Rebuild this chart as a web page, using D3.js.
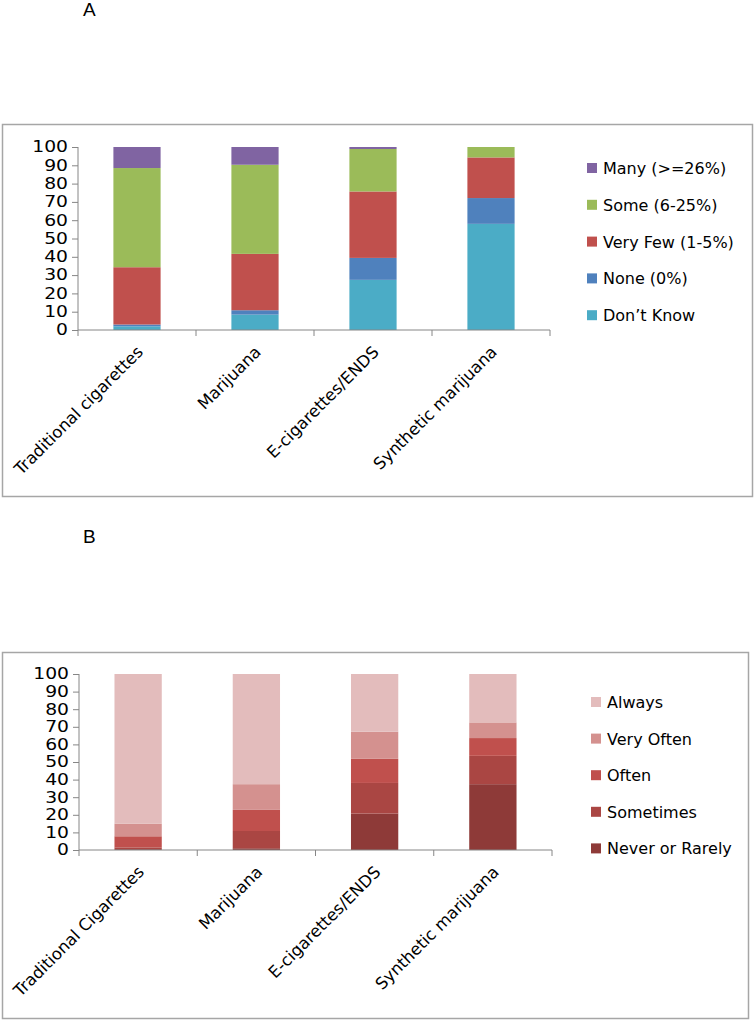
<!DOCTYPE html>
<html lang="en">
<head>
<meta charset="UTF-8">
<title>Stacked bars A and B</title>
<script src="https://d3js.org/d3.v7.min.js"></script>
<style>
    body { margin: 0; background: #fff; font-family: 'DejaVu Sans', 'Liberation Sans', Arial, sans-serif; }
    .tick text { font-size: 15px; fill: #000; font-family: 'DejaVu Sans', sans-serif; }
    .legend text { font-size: 16px; fill: #000; }
    .xlab { font-size: 16.5px; fill: #000; }
    .panel-title { font-size: 19px; fill: #000; font-family: 'Liberation Sans', Arial, sans-serif; }
</style>
</head>
<body>
<svg id="chart" width="755" height="1020"></svg>
<script>
    // panel A: perceived share of peers using each product
    var categoriesA = ["Traditional cigarettes", "Marijuana", "E-cigarettes/ENDS", "Synthetic marijuana"];
    var seriesA = ["Don\u2019t Know", "None (0%)", "Very Few (1-5%)", "Some (6-25%)", "Many (>=26%)"];
    var dontKnowA = [2, 8.4, 27.4, 58];
    var noneA = [1, 2.4, 12, 14.1];
    var veryFewA = [31.3, 30.8, 36.3, 22.2];
    var someA = [54.2, 48.7, 23.2, 5.7];
    var manyA = [11.5, 9.7, 1.1, 0];
    var colorsA = ["#4BACC6", "#4F81BD", "#C0504D", "#9BBB59", "#8064A2"];

    // panel B: how often the product is harmful
    var categoriesB = ["Traditional Cigarettes", "Marijuana", "E-cigarettes/ENDS", "Synthetic marijuana"];
    var seriesB = ["Never or Rarely", "Sometimes", "Often", "Very Often", "Always"];
    var neverB = [0.5, 1, 20.7, 37.4];
    var sometimesB = [1, 9.8, 17.4, 16.1];
    var oftenB = [6.3, 12, 13.7, 10.1];
    var veryOftenB = [7.2, 14.6, 15.4, 8.9];
    var alwaysB = [85, 62.6, 32.8, 27.5];
    var colorsB = ["#8E3A38", "#AA4643", "#C0504D", "#D4918F", "#E3BCBC"];

    var yTicks = [0, 10, 20, 30, 40, 50, 60, 70, 80, 90, 100];

    var svg = d3.select("#chart");

    function drawPanel(p) {
        var g = svg.append("g");

        // outer frame
        g.append("rect")
            .attr("x", p.frame[0]).attr("y", p.frame[1])
            .attr("width", p.frame[2]).attr("height", p.frame[3])
            .attr("fill", "none").attr("stroke", "#a6a6a6").attr("stroke-width", 1.5);

        svg.append("text").attr("class", "panel-title")
            .attr("x", 83).attr("y", p.titleY).text(p.title);

        var rows = p.categories.map(function(c, i) {
            var r = { cat: c };
            p.series.forEach(function(s, j) { r[s] = p.values[j][i]; });
            return r;
        });
        var stack = d3.stack().keys(p.series)(rows);

        var x = d3.scaleBand().domain(p.categories).range([p.left, p.right]).paddingInner(0.6).paddingOuter(0.3);
        var y = d3.scaleLinear().domain([0, 100]).range([p.bottom, p.top]);

        // bars
        g.selectAll(".layer").data(stack).enter().append("g")
            .attr("fill", function(d, i) { return p.colors[i]; })
            .selectAll("rect").data(function(d) { return d; }).enter().append("rect")
            .attr("x", function(d) { return x(d.data.cat); })
            .attr("width", x.bandwidth())
            .attr("y", function(d) { return y(d[1]); })
            .attr("height", function(d) { return y(d[0]) - y(d[1]); });

        // y axis
        var yAxis = g.append("g").attr("transform", "translate(" + p.left + ",0)")
            .call(d3.axisLeft(y).tickValues(yTicks).tickSize(6).tickPadding(4));
        yAxis.selectAll("line, path").attr("stroke", "#868686");
        yAxis.select(".domain").attr("d", "M0," + p.top + "V" + p.bottom);
        // the source font is wide, stretch the digits a little
        yAxis.selectAll(".tick text").attr("x", -8).attr("transform", "scale(1.25,1)");

        // x axis with ticks between categories
        var n = p.categories.length;
        var xAxis = g.append("g").attr("transform", "translate(0," + p.bottom + ")");
        xAxis.append("line").attr("x1", p.left).attr("x2", p.right).attr("stroke", "#868686");
        xAxis.selectAll(".xt").data(d3.range(n + 1)).enter().append("line")
            .attr("x1", function(i) { return p.left + i * (p.right - p.left) / n; })
            .attr("x2", function(i) { return p.left + i * (p.right - p.left) / n; })
            .attr("y1", 0).attr("y2", 6).attr("stroke", "#868686");
        xAxis.selectAll(".xl").data(p.categories).enter().append("text")
            .attr("class", "xlab")
            .attr("text-anchor", "end")
            .attr("transform", function(d) {
                var cx = x(d) + x.bandwidth() / 2;
                return "translate(" + (cx + 7) + ",23) rotate(-45)";
            })
            .text(function(d) { return d; });

        // legend
        var leg = g.append("g").attr("class", "legend");
        var items = p.series.slice().reverse();
        var cols = p.colors.slice().reverse();
        items.forEach(function(s, i) {
            var ly = p.legendY + i * p.legendGap;
            leg.append("rect").attr("x", p.legendX).attr("y", ly - 5)
                .attr("width", 10).attr("height", 10).attr("fill", cols[i]);
            leg.append("text").attr("x", p.legendX + 16).attr("y", ly + 6).text(s);
        });
    }

    drawPanel({
        title: "A", titleY: 16,
        frame: [2.5, 124.5, 750, 372],
        left: 78, right: 550, top: 147, bottom: 330,
        categories: categoriesA, series: seriesA,
        values: [dontKnowA, noneA, veryFewA, someA, manyA], colors: colorsA,
        legendX: 587, legendY: 168, legendGap: 36.8
    });

    drawPanel({
        title: "B", titleY: 543,
        frame: [2.5, 652.5, 746, 366],
        left: 79, right: 552, top: 674, bottom: 850,
        categories: categoriesB, series: seriesB,
        values: [neverB, sometimesB, oftenB, veryOftenB, alwaysB], colors: colorsB,
        legendX: 591, legendY: 702, legendGap: 36.6
    });
</script>
</body>
</html>
